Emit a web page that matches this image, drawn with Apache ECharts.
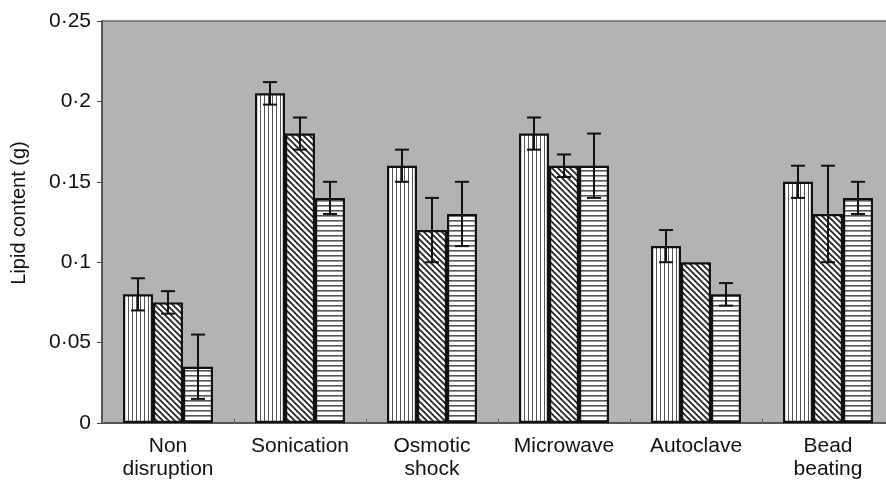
<!DOCTYPE html>
<html>
<head>
<meta charset="utf-8">
<script src="https://cdn.jsdelivr.net/npm/echarts@6/dist/echarts.min.js"></script>
<style>
  html, body { margin: 0; padding: 0; background: #fff; }
  #chart { width: 886px; height: 480px; }
</style>
</head>
<body>
<div id="chart"></div>
<script>
// categories and values
const categories = ['Non\ndisruption', 'Sonication', 'Osmotic\nshock', 'Microwave', 'Autoclave', 'Bead\nbeating']
const verticalBars = [0.08, 0.205, 0.16, 0.18, 0.11, 0.15]
const verticalErr = [0.01, 0.007, 0.01, 0.01, 0.01, 0.01]
const diagonalBars = [0.075, 0.18, 0.12, 0.16, 0.10, 0.13]
const diagonalErr = [0.007, 0.01, 0.02, 0.007, 0, 0.03]
const horizontalBars = [0.035, 0.14, 0.13, 0.16, 0.08, 0.14]
const horizontalErr = [0.02, 0.01, 0.02, 0.02, 0.007, 0.01]
const yTicks = { min: 0, max: 0.25, interval: 0.05 }

const FONT = "'Liberation Sans', Arial, sans-serif"
const BAR_W = 30

// hatch fills drawn on small canvases
function makePattern(kind) {
  const s = kind === 'diag' ? 6 : kind === 'vert' ? 4 : 5
  const c = document.createElement('canvas')
  c.width = s
  c.height = s
  const g = c.getContext('2d')
  g.fillStyle = '#fff'
  g.fillRect(0, 0, s, s)
  if (kind === 'vert') {
    g.fillStyle = '#555'
    g.fillRect(0, 0, 1, s)
  } else if (kind === 'horiz') {
    g.fillStyle = '#555'
    g.fillRect(0, 0, s, 1.6)
  } else {
    g.strokeStyle = '#222'
    g.lineWidth = 1.7
    g.beginPath()
    g.moveTo(-1, -1); g.lineTo(s + 1, s + 1)
    g.moveTo(s - 1, -1); g.lineTo(s + 1, 1)
    g.moveTo(-1, s - 1); g.lineTo(1, s + 1)
    g.stroke()
  }
  return { image: c, repeat: 'repeat' }
}

function barSeries(name, data, kind) {
  return {
    name,
    type: 'bar',
    data,
    barWidth: BAR_W,
    barGap: '0%',
    itemStyle: { color: makePattern(kind), borderColor: '#111', borderWidth: 2.2 },
    z: 2,
  }
}

// error bars as a custom series, shifted to sit on each bar of the group
function errorSeries(values, errs, slot) {
  return {
    type: 'custom',
    data: values.map((v, i) => [i, v, errs[i]]),
    z: 5,
    silent: true,
    renderItem(params, api) {
      const cat = api.value(0)
      const v = api.value(1)
      const e = api.value(2)
      if (!e) return
      const top = api.coord([cat, v + e])
      const bot = api.coord([cat, v - e])
      const x = top[0] + slot * BAR_W
      const cap = 7
      const st = { stroke: '#111', lineWidth: 2 }
      return {
        type: 'group',
        children: [
          { type: 'line', shape: { x1: x, y1: top[1], x2: x, y2: bot[1] }, style: st },
          { type: 'line', shape: { x1: x - cap, y1: top[1], x2: x + cap, y2: top[1] }, style: st },
          { type: 'line', shape: { x1: x - cap, y1: bot[1], x2: x + cap, y2: bot[1] }, style: st },
        ],
      }
    },
  }
}

const chart = echarts.init(document.getElementById('chart'))

const option = {
  animation: false,
  grid: {
    left: 102,
    top: 21,
    width: 792,
    height: 402,
    outerBoundsMode: 'none',
    show: true,
    backgroundColor: '#b3b3b3',
    borderColor: '#6a6a6a',
    borderWidth: 1.5,
  },
  xAxis: {
    type: 'category',
    data: categories,
    axisLine: { lineStyle: { color: '#444', width: 1.5 } },
    axisTick: { show: true, inside: true, length: 4, lineStyle: { color: '#666' } },
    axisLabel: {
      color: '#111',
      fontFamily: FONT,
      fontSize: 21,
      lineHeight: 23,
      margin: 12,
      interval: 0,
    },
  },
  yAxis: {
    type: 'value',
    min: yTicks.min,
    max: yTicks.max,
    interval: yTicks.interval,
    name: 'Lipid content (g)',
    nameLocation: 'middle',
    nameGap: 73,
    nameTextStyle: { color: '#111', fontFamily: FONT, fontSize: 20, padding: [0, 0, 0, 18] },
    axisLine: { show: true, lineStyle: { color: '#444', width: 1.5 } },
    axisTick: { show: true, length: 5, lineStyle: { color: '#444' } },
    splitLine: { show: false },
    axisLabel: {
      color: '#111',
      fontFamily: FONT,
      fontSize: 21,
      margin: 11,
      formatter: (v) => String(+v.toFixed(2)).replace('.', '·'),
    },
  },
  series: [
    barSeries('vertical', verticalBars, 'vert'),
    barSeries('diagonal', diagonalBars, 'diag'),
    barSeries('horizontal', horizontalBars, 'horiz'),
    errorSeries(verticalBars, verticalErr, -1),
    errorSeries(diagonalBars, diagonalErr, 0),
    errorSeries(horizontalBars, horizontalErr, 1),
  ],
}

chart.setOption(option)
</script>
</body>
</html>
